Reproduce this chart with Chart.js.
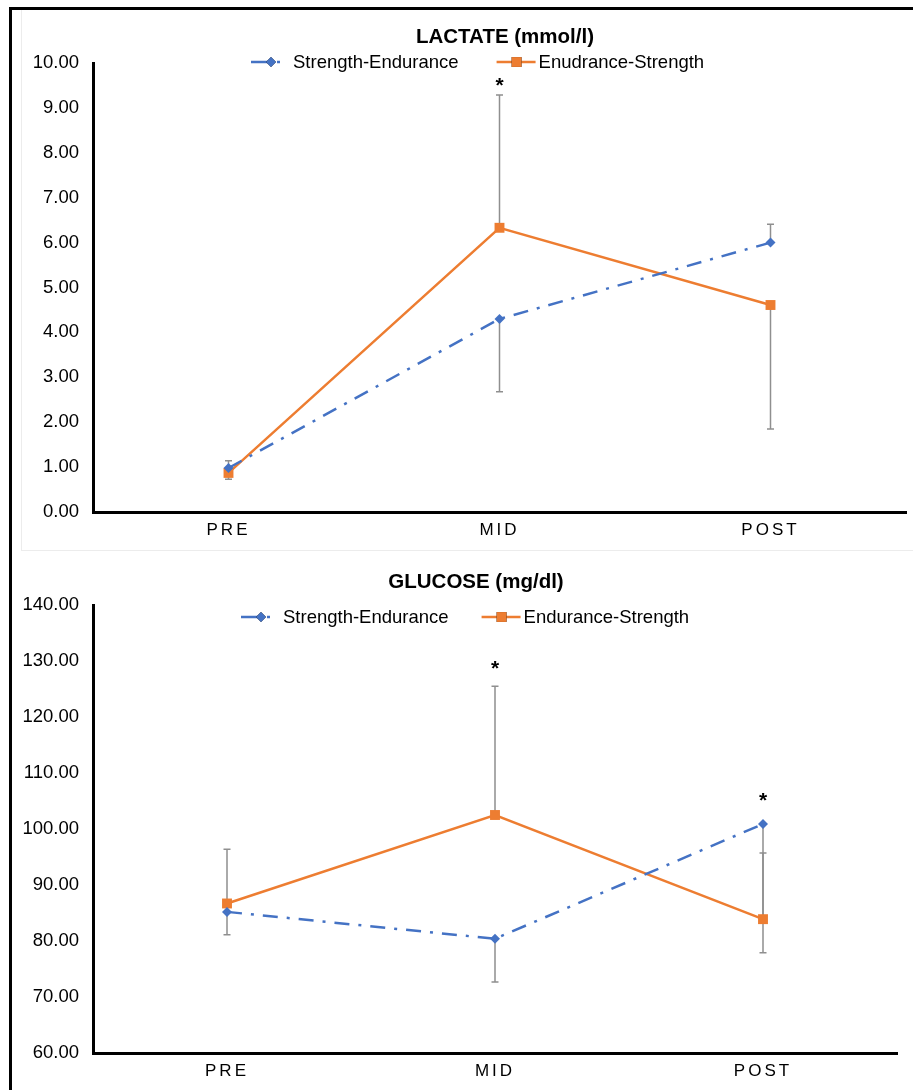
<!DOCTYPE html>
<html>
<head>
<meta charset="utf-8">
<script src="https://cdn.jsdelivr.net/npm/chart.js@4.4.1/dist/chart.umd.min.js"></script>
<style>
  html, body { margin: 0; padding: 0; background: #fff; }
  body { width: 913px; height: 1090px; position: relative; overflow: hidden; }
  #frame { position: absolute; left: 9px; top: 7px; right: -5px; bottom: -5px; border-top: 3px solid #000; border-left: 3px solid #000; }
  #panel { position: absolute; left: 21px; top: 10px; width: 892px; height: 540px; border-left: 1px solid #ececec; border-bottom: 1px solid #ececec; }
  .box { position: absolute; left: 0; width: 913px; }
  #box1 { top: 0; height: 550px; }
  #box2 { top: 550px; height: 540px; }
</style>
</head>
<body>
<div id="frame"></div>
<div id="panel"></div>
<div class="box" id="box1"><canvas id="lactateChart"></canvas></div>
<div class="box" id="box2"><canvas id="glucoseChart"></canvas></div>

<script>
// momentos de medición
const categories = ['PRE', 'MID', 'POST'];

// Lactato (mmol/l)
const lactateSE = [0.98, 4.30, 6.00];
const lactateES = [0.87, 6.33, 4.61];
const lactateSEerrUp = [0.16, 0, 0.41];
const lactateSEerrDown = [0, 1.62, 0];
const lactateESerrUp = [0, 2.96, 0];
const lactateESerrDown = [0.14, 0, 2.76];
const lactateStars = [null, 9.62, null];
const lactateTicks = [0, 10, 1];

// Glucosa (mg/dl)
const glucoseSE = [85.2, 80.4, 100.9];
const glucoseES = [86.7, 102.5, 83.9];
const glucoseSEerrUp = [0, 0, 0];
const glucoseSEerrDown = [4.1, 7.7, 23.0];
const glucoseESerrUp = [9.7, 23.0, 11.8];
const glucoseESerrDown = [0, 0, 0];
const glucoseStars = [null, 129.6, 106.1];
const glucoseTicks = [60, 140, 10];

const FONT = '"Liberation Sans", Arial, Helvetica, sans-serif';
const BLUE = '#4472C4';
const ORANGE = '#ED7D31';
const BLUE_DASH = [15, 9, 3, 9];

// barras de error (gris) dibujadas con las escalas del gráfico
const errorBars = {
  id: 'errorBars',
  beforeDatasetsDraw(chart) {
    const ctx = chart.ctx;
    const xs = chart.scales.x, ys = chart.scales.y;
    ctx.save();
    ctx.strokeStyle = '#8f8f8f';
    ctx.lineWidth = 1.5;
    chart.data.datasets.forEach(ds => {
      ds.data.forEach((v, j) => {
        const x = xs.getPixelForValue(j);
        const y0 = ys.getPixelForValue(v);
        [v + ds.errUp[j], v - ds.errDown[j]].forEach((end, k) => {
          const amt = k === 0 ? ds.errUp[j] : ds.errDown[j];
          if (!amt) return;
          const y1 = ys.getPixelForValue(end);
          ctx.beginPath();
          ctx.moveTo(x, y0); ctx.lineTo(x, y1);
          ctx.moveTo(x - 3.5, y1); ctx.lineTo(x + 3.5, y1);
          ctx.stroke();
        });
      });
    });
    ctx.restore();
  }
};

// asteriscos de significación
const stars = {
  id: 'stars',
  afterDatasetsDraw(chart, args, opts) {
    const ctx = chart.ctx;
    ctx.save();
    ctx.fillStyle = '#000';
    ctx.font = 'bold 21px ' + FONT;
    ctx.textAlign = 'center';
    ctx.textBaseline = 'alphabetic';
    opts.values.forEach((v, j) => {
      if (v === null) return;
      const x = chart.scales.x.getPixelForValue(j);
      const y = chart.scales.y.getPixelForValue(v);
      ctx.fillText('*', x, y + 0.56 * 21);
    });
    ctx.restore();
  }
};

// título y leyenda al estilo Excel (línea + marcador)
const header = {
  id: 'header',
  afterDraw(chart, args, opts) {
    const ctx = chart.ctx;
    ctx.save();
    ctx.fillStyle = '#000';
    ctx.font = 'bold 20.5px ' + FONT;
    ctx.textAlign = 'center';
    ctx.textBaseline = 'middle';
    ctx.fillText(opts.title, opts.titleX, opts.titleY);

    ctx.font = '18.5px ' + FONT;
    ctx.textAlign = 'left';
    let x = opts.legendX;
    const y = opts.legendY;
    chart.data.datasets.forEach(ds => {
      ctx.save();
      ctx.strokeStyle = ds.borderColor;
      ctx.lineWidth = 2.5;
      ctx.setLineDash(ds.borderDash.length ? [21, 5, 3, 20] : []);
      ctx.beginPath();
      ctx.moveTo(x, y); ctx.lineTo(x + 39, y);
      ctx.stroke();
      ctx.restore();
      Chart.helpers.drawPoint(ctx, {
        pointStyle: ds.pointStyle, radius: ds.pointRadius, borderWidth: 0, rotation: 0
      }, x + 20, y);
      ctx.fillStyle = ds.borderColor;
      ctx.fill();
      ctx.fillStyle = '#000';
      ctx.fillText(ds.label, x + 42, y + 1);
      x += 42 + ctx.measureText(ds.label).width + opts.gap;
    });
    ctx.restore();
  }
};

// letras de las categorías algo espaciadas
const spacedLabels = {
  id: 'spacedLabels',
  afterLayout(chart) {
    const s = chart.scales.x;
    if (s._spaced) return;
    const orig = s.drawLabels;
    s.drawLabels = function (area) {
      this.ctx.save();
      this.ctx.letterSpacing = '3px';
      orig.call(this, area);
      this.ctx.restore();
    };
    s._spaced = true;
  }
};

function makeChart(id, c) {
  const ctx = document.getElementById(id).getContext('2d');
  return new Chart(ctx, {
    type: 'line',
    data: {
      labels: categories,
      datasets: [{
        label: c.labels[0],
        data: c.se,
        errUp: c.seUp, errDown: c.seDown,
        borderColor: BLUE, backgroundColor: BLUE,
        borderWidth: 2.5, borderDash: BLUE_DASH,
        pointStyle: 'rectRot', pointRadius: 5, pointBorderWidth: 0,
        tension: 0
      }, {
        label: c.labels[1],
        data: c.es,
        errUp: c.esUp, errDown: c.esDown,
        borderColor: ORANGE, backgroundColor: ORANGE,
        borderWidth: 2.5, borderDash: [],
        pointStyle: 'rect', pointRadius: 7, pointBorderWidth: 0,
        tension: 0
      }]
    },
    options: {
      responsive: true,
      maintainAspectRatio: false,
      animation: false,
      events: [],
      layout: { padding: { left: 12, right: c.padRight, top: c.padTop, bottom: 0 } },
      plugins: {
        legend: { display: false },
        tooltip: { enabled: false },
        header: c.header,
        stars: { values: c.stars }
      },
      scales: {
        x: {
          offset: true,
          grid: { display: false, drawTicks: false },
          border: { color: '#000', width: 3 },
          ticks: { color: '#000', padding: 8, font: { size: 17, family: FONT } },
          afterFit: s => { s.height = c.xHeight; }
        },
        y: {
          min: c.ticks[0], max: c.ticks[1],
          grid: { display: false, drawTicks: false },
          border: { color: '#000', width: 3 },
          ticks: {
            stepSize: c.ticks[2], color: '#000', padding: 14,
            font: { size: 18.5, family: FONT },
            callback: v => Number(v).toFixed(2)
          },
          afterFit: s => { s.width = 81; }
        }
      }
    },
    plugins: [errorBars, stars, header, spacedLabels]
  });
}

makeChart('lactateChart', {
  labels: ['Strength-Endurance', 'Enudrance-Strength'],
  se: lactateSE, es: lactateES,
  seUp: lactateSEerrUp, seDown: lactateSEerrDown,
  esUp: lactateESerrUp, esDown: lactateESerrDown,
  stars: lactateStars, ticks: lactateTicks,
  padRight: 6, padTop: 63, xHeight: 38,
  header: { title: 'LACTATE (mmol/l)', titleX: 505, titleY: 37, legendX: 251, legendY: 62, gap: 38 }
});

makeChart('glucoseChart', {
  labels: ['Strength-Endurance', 'Endurance-Strength'],
  se: glucoseSE, es: glucoseES,
  seUp: glucoseSEerrUp, seDown: glucoseSEerrDown,
  esUp: glucoseESerrUp, esDown: glucoseESerrDown,
  stars: glucoseStars, ticks: glucoseTicks,
  padRight: 16, padTop: 55, xHeight: 37,
  header: { title: 'GLUCOSE (mg/dl)', titleX: 476, titleY: 32, legendX: 241, legendY: 67, gap: 33 }
});
</script>
</body>
</html>
